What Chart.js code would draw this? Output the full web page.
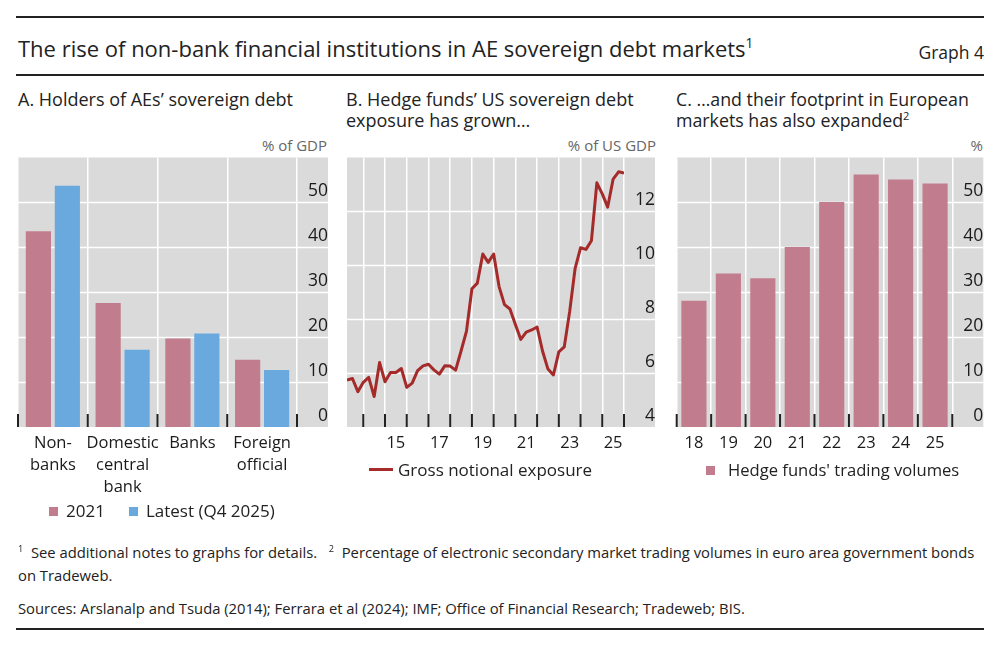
<!DOCTYPE html>
<html>
<head>
<meta charset="utf-8">
<title>Graph 4</title>
<script src="https://cdn.jsdelivr.net/npm/chart.js@4.4.1/dist/chart.umd.min.js"></script>
<style>
  body { margin: 0; background: #fff; font-family: 'Open Sans', sans-serif; color: #222; }
  #page { position: relative; width: 1000px; height: 647px; overflow: hidden; }
  .rule { position: absolute; left: 16px; width: 968px; height: 2px; background: #222; }
  .t { position: absolute; white-space: nowrap; }
  sup { font-size: 0.62em; vertical-align: 0; position: relative; top: -0.65em; }
  canvas { position: absolute; }
  .sw { display: inline-block; width: 9px; height: 9px; margin-right: 8px; vertical-align: 1px; }
  .ln { display: inline-block; width: 24px; height: 3px; margin-right: 5px; vertical-align: 5px; background: #a52a2a; }
</style>
</head>
<body>
<div id="page">
  <div class="rule" style="top:16px"></div>
  <div class="t" style="left:18px;top:35px;font-size:22px;line-height:26px">The rise of non-bank financial institutions in AE sovereign debt markets<sup>1</sup></div>
  <div class="t" style="right:16px;top:42px;font-size:17.5px;line-height:20px">Graph 4</div>
  <div class="rule" style="top:74px"></div>

  <div class="t" style="left:18px;top:89px;font-size:18px;line-height:21px">A. Holders of AEs’ sovereign debt</div>
  <div class="t" style="left:346px;top:89px;font-size:18px;line-height:21px">B. Hedge funds’ US sovereign debt<br>exposure has grown…</div>
  <div class="t" style="left:676px;top:89px;font-size:17.8px;line-height:21px">C. …and their footprint in European<br>markets has also expanded<sup>2</sup></div>

  <div class="t" style="right:673px;top:136px;font-size:15px;line-height:18px;color:#666">% of GDP</div>
  <div class="t" style="right:344px;top:136px;font-size:15px;line-height:18px;color:#666">% of US GDP</div>
  <div class="t" style="right:17px;top:136px;font-size:15px;line-height:18px;color:#666">%</div>

  <canvas id="chartA" width="335" height="380" style="left:0;top:140px"></canvas>
  <canvas id="chartB" width="325" height="340" style="left:335px;top:140px"></canvas>
  <canvas id="chartC" width="340" height="340" style="left:660px;top:140px"></canvas>

  <div class="t" style="left:49px;top:500px;font-size:17px;line-height:22px">
    <span class="sw" style="background:#c17c8d"></span>2021<span style="display:inline-block;width:24px"></span><span class="sw" style="background:#69a9de"></span>Latest (Q4 2025)
  </div>
  <div class="t" style="left:369px;top:459px;font-size:17px;line-height:22px"><span class="ln"></span>Gross notional exposure</div>
  <div class="t" style="left:706px;top:459px;font-size:16.6px;line-height:22px"><span class="sw" style="background:#c17c8d;margin-right:13px"></span>Hedge funds' trading volumes</div>

  <div class="t" style="left:18px;top:542px;font-size:14.8px;line-height:21px"><sup>1</sup>&nbsp; See additional notes to graphs for details.&nbsp;&nbsp; <sup>2</sup>&nbsp; Percentage of electronic secondary market trading volumes in euro area government bonds<br>on Tradeweb.</div>
  <div class="t" style="left:18px;top:597px;font-size:14.8px;line-height:22px">Sources: Arslanalp and Tsuda (2014); Ferrara et al (2024); IMF; Office of Financial Research; Tradeweb; BIS.</div>
  <div class="rule" style="top:628px"></div>
</div>

<script>
// Panel A: holders of AE sovereign debt (% of GDP)
const holderCategories = [['Non-', 'banks'], ['Domestic', 'central', 'bank'], 'Banks', ['Foreign', 'official']];
const holders2021 = [43.6, 27.6, 19.7, 15.0];
const holdersLatest = [53.7, 17.2, 20.8, 12.7];

// Panel B: hedge funds' gross notional exposure (% of US GDP), quarterly
const exposureQuarters = [
  '13Q1', '13Q2', '13Q3', '13Q4', '14Q1', '14Q2', '14Q3', '14Q4',
  '15Q1', '15Q2', '15Q3', '15Q4', '16Q1', '16Q2', '16Q3', '16Q4',
  '17Q1', '17Q2', '17Q3', '17Q4', '18Q1', '18Q2', '18Q3', '18Q4',
  '19Q1', '19Q2', '19Q3', '19Q4', '20Q1', '20Q2', '20Q3', '20Q4',
  '21Q1', '21Q2', '21Q3', '21Q4', '22Q1', '22Q2', '22Q3', '22Q4',
  '23Q1', '23Q2', '23Q3', '23Q4', '24Q1', '24Q2', '24Q3', '24Q4',
  '25Q1', '25Q2', '25Q3', '25Q4'
];
const exposure = [
  5.74, 5.80, 5.31, 5.66, 5.84, 5.13, 6.39, 5.68,
  6.02, 6.02, 6.17, 5.47, 5.63, 6.09, 6.27, 6.33,
  6.12, 5.96, 6.27, 6.26, 6.11, 6.82, 7.56, 9.13,
  9.34, 10.42, 10.11, 10.42, 9.21, 8.54, 8.38, 7.80,
  7.25, 7.52, 7.60, 7.71, 6.82, 6.15, 5.93, 6.79,
  6.97, 8.29, 9.89, 10.65, 10.59, 10.91, 13.06, 12.65,
  12.16, 13.20, 13.47, 13.42
];
const exposureYearTicks = [2014, 2015, 2016, 2017, 2018, 2019, 2020, 2021, 2022, 2023, 2024, 2025, 2026];
const exposureYearLabels = [2015, 2017, 2019, 2021, 2023, 2025];

// Panel C: hedge funds' share of trading volumes (%)
const volumeYears = ['18', '19', '20', '21', '22', '23', '24', '25'];
const volumes = [28.1, 34.2, 33.1, 40.1, 50.1, 56.2, 55.1, 54.2];

const PINK = '#c17c8d';
const BLUE = '#69a9de';
const RED = '#a52a2a';
const PANEL_GREY = '#dadada';
const FONT = "'Open Sans', sans-serif";

Chart.defaults.font.family = FONT;
Chart.defaults.color = '#222';

// grey panel, white horizontal grid reaching under the tick labels, black inward ticks
const panelBackground = {
  id: 'panelBackground',
  beforeDraw(chart) {
    const { ctx, chartArea } = chart;
    const y = chart.scales.y;
    ctx.save();
    ctx.fillStyle = PANEL_GREY;
    ctx.fillRect(chartArea.left, chartArea.top, y.right - chartArea.left, chartArea.bottom - chartArea.top);
    ctx.strokeStyle = '#fff';
    ctx.lineWidth = 1.5;
    y.ticks.forEach(t => {
      if (t.value <= y.min || t.value >= y.max) return;
      const py = Math.round(y.getPixelForValue(t.value)) + 0.5;
      ctx.beginPath();
      ctx.moveTo(chartArea.left, py);
      ctx.lineTo(y.right, py);
      ctx.stroke();
    });
    ctx.restore();
  },
  afterDraw(chart) {
    const { ctx, chartArea } = chart;
    const x = chart.scales.x;
    let marks = [];
    if (x.type === 'category') {
      for (let i = 0; i <= x.getLabels().length; i++) marks.push(x.getPixelForValue(i - 0.5));
    } else {
      marks = x.ticks.map(t => x.getPixelForValue(t.value));
    }
    ctx.save();
    ctx.strokeStyle = '#222';
    ctx.lineWidth = 2;
    marks.forEach(px => {
      ctx.beginPath();
      ctx.moveTo(px, chartArea.bottom - 13);
      ctx.lineTo(px, chartArea.bottom);
      ctx.stroke();
    });
    ctx.restore();
  }
};

function yAxis(min, max, step) {
  return {
    position: 'right',
    min: min,
    max: max,
    grid: { display: false, drawTicks: false },
    border: { display: false },
    ticks: {
      stepSize: step,
      padding: 7,
      crossAlign: 'far',
      labelOffset: -11,
      color: '#1a1a1a',
      font: { size: 17.5 },
      callback: v => (v < max ? v : '')
    },
    afterFit(s) { s.width = 31; }
  };
}

function xGrid() {
  return { color: '#fff', lineWidth: 1.5, drawTicks: false };
}

const baseOptions = {
  responsive: false,
  animation: false,
  plugins: { legend: { display: false }, tooltip: { enabled: false } }
};

// Panel A
new Chart(document.getElementById('chartA'), {
  type: 'bar',
  data: {
    labels: holderCategories,
    datasets: [
      { label: '2021', data: holders2021, backgroundColor: PINK, categoryPercentage: 0.83, barPercentage: 0.87 },
      { label: 'Latest (Q4 2025)', data: holdersLatest, backgroundColor: BLUE, categoryPercentage: 0.83, barPercentage: 0.87 }
    ]
  },
  options: {
    ...baseOptions,
    layout: { padding: { left: 18, top: 15, right: 7, bottom: 13 } },
    scales: {
      x: {
        grid: { ...xGrid(), offset: true },
        border: { display: false },
        ticks: { padding: 5, maxRotation: 0, autoSkip: false, font: { size: 16.5, lineHeight: 1.33 }, color: '#1a1a1a' },
        afterFit(s) { s.height = 80; }
      },
      y: yAxis(0, 60, 10)
    }
  },
  plugins: [panelBackground]
});

// Panel B
new Chart(document.getElementById('chartB'), {
  type: 'line',
  data: {
    datasets: [{
      label: 'Gross notional exposure',
      data: exposureQuarters.map((q, i) => ({
        x: 2000 + parseInt(q.slice(0, 2), 10) + parseInt(q.slice(3), 10) / 4,
        y: exposure[i]
      })),
      borderColor: RED,
      borderWidth: 3,
      pointRadius: 0,
      tension: 0,
      borderJoinStyle: 'round'
    }]
  },
  options: {
    ...baseOptions,
    layout: { padding: { left: 12, top: 15, right: 5, bottom: 13 } },
    scales: {
      x: {
        type: 'linear',
        min: 2013.25,
        max: 2026,
        grid: xGrid(),
        border: { display: false },
        afterBuildTicks(s) { s.ticks = exposureYearTicks.map(v => ({ value: v })); },
        ticks: {
          padding: 5,
          maxRotation: 0,
          autoSkip: false,
          labelOffset: 10.85,
          font: { size: 16.5, lineHeight: 1.33 },
          color: '#1a1a1a',
          callback: v => (exposureYearLabels.includes(v) ? String(v - 2000) : '')
        },
        afterFit(s) { s.height = 40; }
      },
      y: yAxis(4, 14, 2)
    }
  },
  plugins: [panelBackground]
});

// Panel C
new Chart(document.getElementById('chartC'), {
  type: 'bar',
  data: {
    labels: volumeYears,
    datasets: [{ label: "Hedge funds' trading volumes", data: volumes, backgroundColor: PINK, categoryPercentage: 0.73, barPercentage: 1 }]
  },
  options: {
    ...baseOptions,
    layout: { padding: { left: 16.7, top: 15, right: 16.7, bottom: 13 } },
    scales: {
      x: {
        grid: { ...xGrid(), offset: true },
        border: { display: false },
        ticks: { padding: 5, maxRotation: 0, autoSkip: false, font: { size: 16.5, lineHeight: 1.33 }, color: '#1a1a1a' },
        afterFit(s) { s.height = 40; }
      },
      y: yAxis(0, 60, 10)
    }
  },
  plugins: [panelBackground]
});
</script>
</body>
</html>
